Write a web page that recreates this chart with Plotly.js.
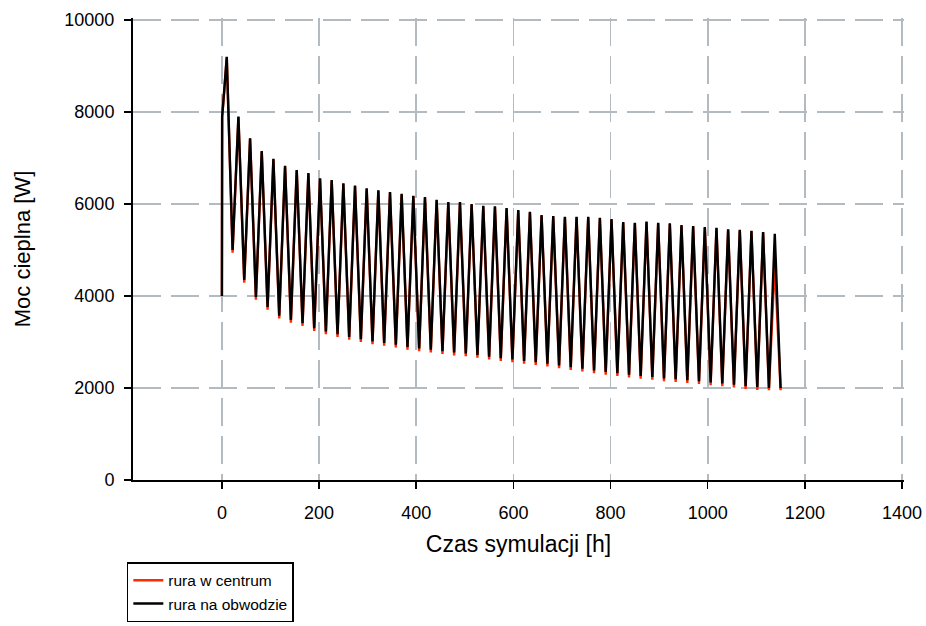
<!DOCTYPE html>
<html>
<head>
<meta charset="utf-8">
<script src="https://cdn.plot.ly/plotly-3.0.1.min.js"></script>
<style>html,body{margin:0;padding:0;background:#fff;}#chart{width:926px;height:626px;}</style>
</head>
<body>
<div id="chart"></div>
<script>
// ---- data ----
const seriesNames = ["rura w centrum", "rura na obwodzie"];

const startTimes = [0, 0.5, 5];
const startBlack = [4000, 7900, 8500];
const startRed   = [4000, 7880, 8480];

const peakTimes = [10,34,58,82,106,130,154,178,202,226,250,274,298,322,346,370,394,418,442,466,490,514,538,562,586,610,634,658,682,706,730,754,778,802,826,850,874,898,922,946,970,994,1018,1042,1066,1090,1114,1138];
const peakBlack = [9200,7900,7430,7150,6980,6830,6740,6670,6560,6520,6450,6400,6340,6300,6260,6220,6180,6150,6090,6040,6040,6000,5960,5950,5910,5870,5830,5760,5740,5720,5720,5720,5700,5670,5610,5590,5620,5590,5580,5540,5520,5500,5480,5450,5440,5420,5390,5350];
const peakRed   = [9190,7890,7420,7140,6970,6820,6730,6660,6550,6510,6440,6390,6330,6290,6250,6210,6170,6140,6080,6030,6030,5990,5950,5940,5900,5860,5820,5750,5730,5710,5710,5710,5690,5660,5600,5580,5610,5580,5570,5530,5510,5490,5470,5440,5430,5410,5380,4700];

const troughTimes = [22,46,70,94,118,142,166,190,214,238,262,286,310,334,358,382,406,430,454,478,502,526,550,574,598,622,646,670,694,718,742,766,790,814,838,862,886,910,934,958,982,1006,1030,1054,1078,1102,1126,1150];
const troughBlack = [5000,4350,3980,3760,3570,3480,3410,3300,3230,3170,3110,3060,3010,2980,2940,2890,2860,2830,2800,2770,2750,2720,2680,2650,2620,2590,2560,2530,2490,2450,2420,2380,2350,2320,2290,2260,2240,2210,2190,2170,2150,2120,2100,2070,2040,2020,2000,2000];
const troughRed   = [4940,4290,3920,3700,3510,3420,3350,3240,3170,3110,3050,3000,2950,2920,2880,2830,2800,2770,2740,2710,2690,2660,2620,2590,2560,2530,2500,2470,2430,2390,2360,2320,2290,2260,2230,2200,2180,2150,2130,2110,2090,2060,2040,2010,1980,1960,1950,1950];

const xTicks = [0,200,400,600,800,1000,1200,1400];
const yTicks = [0,2000,4000,6000,8000,10000];

// ---- build the traces ----
function buildSeries(sT, sV, pT, pV, tT, tV) {
  const x = sT.slice(), y = sV.slice();
  for (let i = 0; i < pT.length; i++) {
    x.push(pT[i]); y.push(pV[i]);
    x.push(tT[i]); y.push(tV[i]);
  }
  return {x, y};
}
const red = buildSeries(startTimes, startRed, peakTimes, peakRed, troughTimes, troughRed);
const black = buildSeries(startTimes, startBlack, peakTimes, peakBlack, troughTimes, troughBlack);

const traces = [
  {x: red.x, y: red.y, mode: 'lines', name: seriesNames[0], line: {color: '#ff2a00', width: 2.4}},
  {x: black.x, y: black.y, mode: 'lines', name: seriesNames[1], line: {color: '#000000', width: 2.4}}
];

const FAM = 'Liberation Sans, Arial, sans-serif';
const gridColor = '#b3bac0';

const layout = {
  width: 926, height: 626,
  margin: {l: 133, r: 22, t: 18, b: 146, pad: 0, autoexpand: false},
  paper_bgcolor: '#fff', plot_bgcolor: '#fff',
  font: {family: FAM, size: 15, color: '#000'},
  showlegend: true,
  legend: {
    x: -0.008, xanchor: 'left', y: -0.178, yanchor: 'top',
    bgcolor: '#fff', bordercolor: '#000', borderwidth: 1.5,
    font: {family: FAM, size: 15.5, color: '#000'},
    tracegroupgap: 0
  },
  xaxis: {
    range: [-183, 1404], tickvals: xTicks, ticktext: xTicks.map(String),
    automargin: false,
    showline: true, linecolor: '#000', linewidth: 2, mirror: false,
    ticks: 'outside', ticklen: 7, tickwidth: 1.5, tickcolor: '#000',
    ticklabelstandoff: 8,
    showgrid: true, gridcolor: gridColor, gridwidth: 1.6, griddash: '28px,10px',
    zeroline: false,
    tickfont: {family: FAM, size: 18, color: '#000'},
    title: {text: 'Czas symulacji [h]', font: {family: FAM, size: 23, color: '#000'}, standoff: 14}
  },
  yaxis: {
    range: [0, 10043], tickvals: yTicks, ticktext: yTicks.map(String),
    automargin: false,
    showline: true, linecolor: '#000', linewidth: 2, mirror: false,
    ticks: 'outside', ticklen: 7, tickwidth: 1.5, tickcolor: '#000',
    ticklabelstandoff: 6,
    showgrid: true, gridcolor: gridColor, gridwidth: 1.6, griddash: '28px,10px',
    zeroline: false,
    tickfont: {family: FAM, size: 18, color: '#000'},
    title: {text: 'Moc cieplna [W]', font: {family: FAM, size: 22, color: '#000'}, standoff: 28}
  }
};

Plotly.newPlot('chart', traces, layout, {displayModeBar: false, staticPlot: true});
</script>
</body>
</html>
